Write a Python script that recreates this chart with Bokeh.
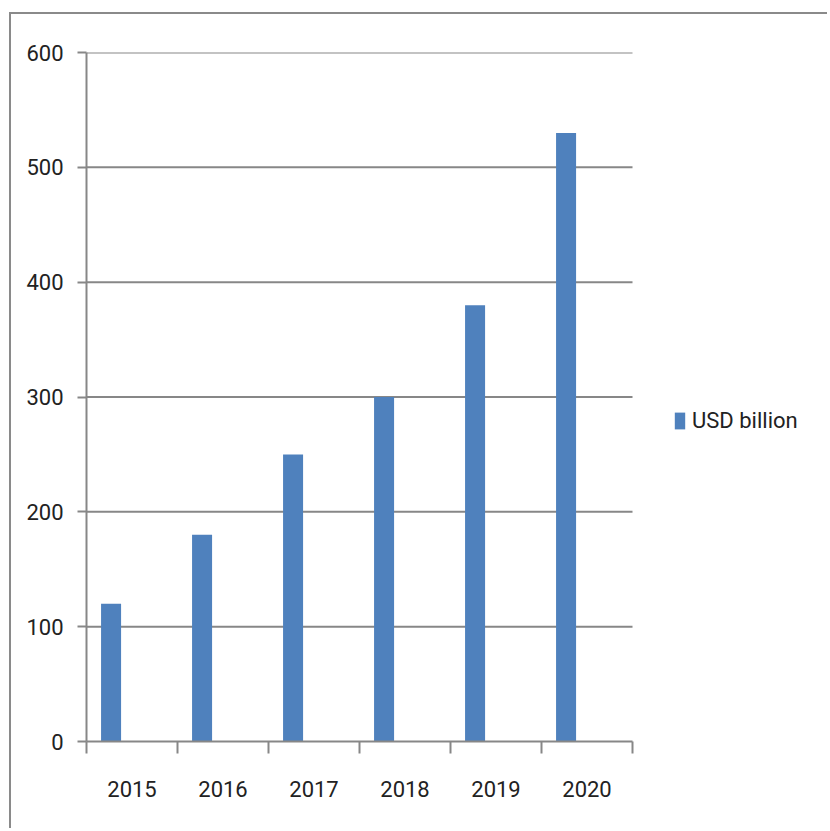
from bokeh.plotting import figure
from bokeh.models import ColumnDataSource, FixedTicker, Range1d, Legend, LegendItem
from bokeh.transform import dodge
from bokeh.embed import file_html
from bokeh.resources import INLINE

years = ["2015", "2016", "2017", "2018", "2019", "2020"]
values = [120, 180, 250, 300, 380, 530]
y_ticks = [0, 100, 200, 300, 400, 500, 600]
series_name = "USD billion"

FONT = "Roboto"
GRID = "#878787"
BAR = "#4F81BD"

W, H = 818, 816
LEFT, RIGHT, TOP, BOTTOM = 75, 5, 38, 89
PLOT_PX = 546                      # pixel width of the category area
FRAME_PX = W - LEFT - RIGHT        # frame also hosts the legend to the right
n = len(years)
x_end = n * FRAME_PX / PLOT_PX

centers = [i + 0.5 for i in range(n)]
src = ColumnDataSource(dict(x=centers, top=values, year=years))

p = figure(width=W, height=H, output_backend="svg", toolbar_location=None,
           x_range=Range1d(0, x_end), y_range=Range1d(0, 600),
           min_border_left=LEFT, min_border_top=TOP, min_border_right=RIGHT,
           min_border_bottom=BOTTOM)
p.styles = {"border-left": "2px solid #8a8a8a", "border-top": "2px solid #8a8a8a",
            "margin-top": "12px", "margin-left": "9px"}
p.outline_line_color = None
p.background_fill_color = "white"
p.border_fill_color = "white"

# horizontal gridlines limited to the category area
grid_y = y_ticks[1:]
p.segment(x0=[0] * len(grid_y), x1=[n] * len(grid_y), y0=grid_y, y1=grid_y,
          line_color=GRID, line_width=2)

r = p.vbar(x=dodge("x", -0.23, range=p.x_range), top="top", bottom=0, width=0.22,
           source=src, fill_color=BAR, line_color=None)

# axes
p.xaxis.bounds = (0, n)
p.xaxis.ticker = FixedTicker(ticks=centers, minor_ticks=list(range(n + 1)))
p.xaxis.major_label_overrides = {c: y for c, y in zip(centers, years)}
p.xaxis.major_tick_line_color = None
p.xaxis.major_tick_out = 0
p.xaxis.major_tick_in = 0
p.xaxis.minor_tick_line_color = GRID
p.xaxis.minor_tick_line_width = 2
p.xaxis.minor_tick_out = 12
p.xaxis.minor_tick_in = 0
p.xaxis.major_label_standoff = 27
p.xaxis.axis_line_color = GRID
p.xaxis.axis_line_width = 2

p.yaxis.ticker = FixedTicker(ticks=y_ticks, minor_ticks=[])
p.yaxis.major_tick_line_color = GRID
p.yaxis.major_tick_line_width = 2
p.yaxis.major_tick_out = 9
p.yaxis.major_tick_in = 0
p.yaxis.minor_tick_line_color = None
p.yaxis.major_label_standoff = 14
p.yaxis.axis_line_color = GRID
p.yaxis.axis_line_width = 2

for ax in (p.xaxis, p.yaxis):
    ax.major_label_text_font = FONT
    ax.major_label_text_font_size = "22px"
    ax.major_label_text_color = "#222222"

p.xgrid.grid_line_color = None
p.ygrid.grid_line_color = None

legend = Legend(items=[LegendItem(label=series_name, renderers=[r])],
                location=(587, 308), orientation="vertical")
legend.border_line_color = None
legend.background_fill_alpha = 0
legend.glyph_width = 13
legend.glyph_height = 21
legend.label_standoff = 6
legend.label_height = 21
legend.padding = 0
legend.margin = 0
legend.label_text_font = FONT
legend.label_text_font_size = "22px"
legend.label_text_color = "#222222"
p.add_layout(legend, "center")

open("out.html", "w").write(file_html(p, INLINE))
